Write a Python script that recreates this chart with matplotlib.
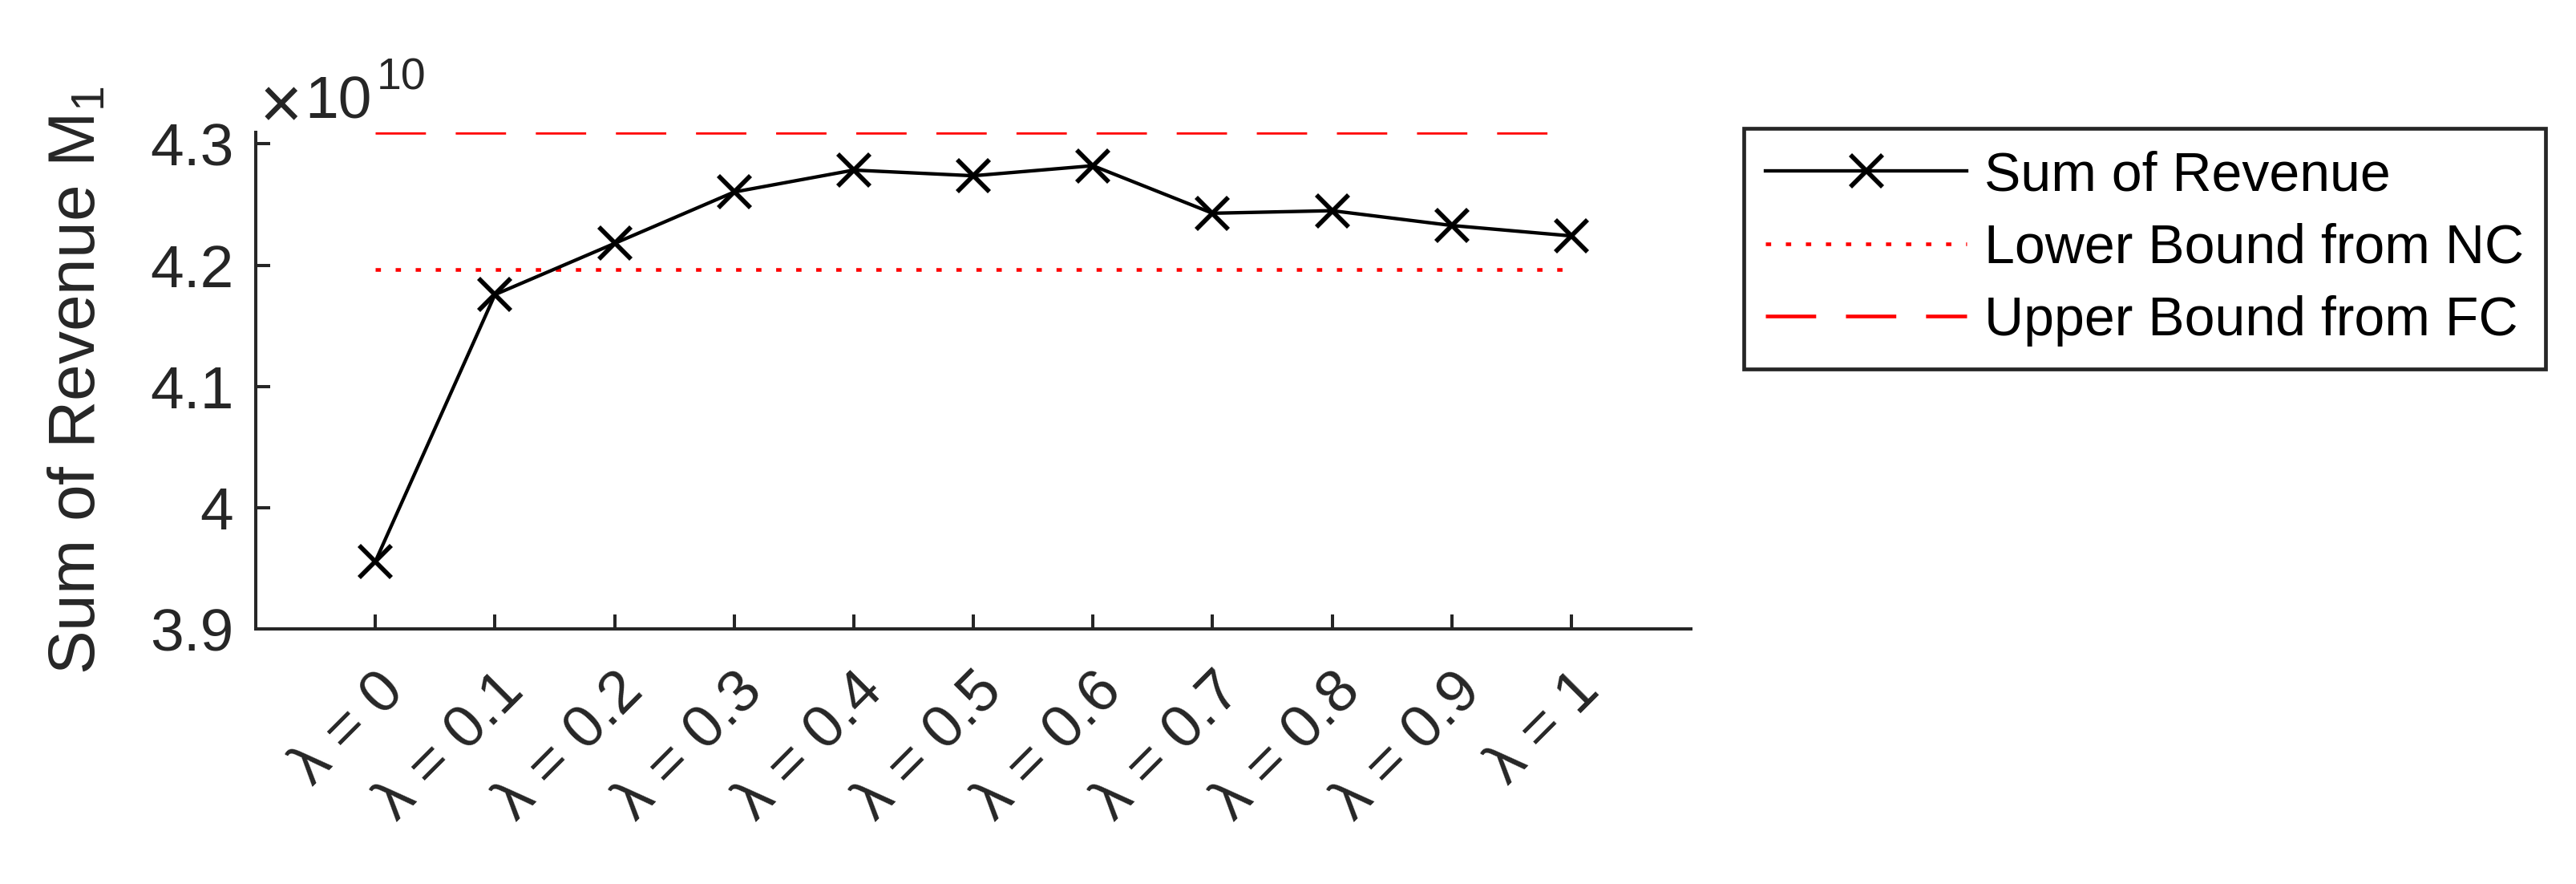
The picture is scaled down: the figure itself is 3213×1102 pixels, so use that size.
import matplotlib
matplotlib.use('Agg')
import matplotlib.pyplot as plt
from matplotlib.ticker import FixedLocator, FixedFormatter

# ---- data ----
lambda_values = ['0', '0.1', '0.2', '0.3', '0.4', '0.5', '0.6', '0.7', '0.8', '0.9', '1']
x_tick_labels = ['\u03bb = ' + v for v in lambda_values]
revenue = [3.9556e10, 4.1757e10, 4.2179e10, 4.2603e10, 4.2784e10, 4.2737e10,
           4.2820e10, 4.2428e10, 4.2449e10, 4.2327e10, 4.2241e10]
lower_bound = 4.1965e10
upper_bound = 4.3095e10
y_ticks = [3.9e10, 4.0e10, 4.1e10, 4.2e10, 4.3e10]
y_tick_labels = ['3.9', '4', '4.1', '4.2', '4.3']
series_labels = ['Sum of Revenue', 'Lower Bound from NC', 'Upper Bound from FC']
y_label = 'Sum of Revenue M$_1$'

# ---- style ----
plt.rcParams['font.family'] = ['Liberation Sans', 'DejaVu Sans']
plt.rcParams['mathtext.fontset'] = 'custom'
plt.rcParams['mathtext.rm'] = 'Liberation Sans'
plt.rcParams['mathtext.it'] = 'Liberation Sans:italic'
plt.rcParams['mathtext.bf'] = 'Liberation Sans:bold'

W, H, DPI = 3213, 1102, 100
GRAY = '#262626'
fig = plt.figure(figsize=(W / DPI, H / DPI), dpi=DPI)
fig.patch.set_facecolor('white')

ax_l, ax_r, ax_t, ax_b = 319, 2109, 165, 784
ax = fig.add_axes([ax_l / W, 1 - ax_b / H, (ax_r - ax_l) / W, (ax_b - ax_t) / H])

x = list(range(1, len(revenue) + 1))
ax.plot(x, revenue, color='black', lw=3.1, marker='x', ms=29, mew=4.1,
        label=series_labels[0], zorder=3)
ax.plot([x[0], x[-1]], [lower_bound, lower_bound], color='red', lw=3.3,
        dashes=(1.45, 4.0), dash_capstyle='butt', label=series_labels[1])
ax.plot([x[0], x[-1]], [upper_bound, upper_bound], color='red', lw=3.3,
        dashes=(13.7, 8.1), dash_capstyle='butt', label=series_labels[2])

ax.set_xlim(x[0] - 1, x[-1] + 1)
ax.set_ylim(y_ticks[0], upper_bound)

for s in ['top', 'right']:
    ax.spines[s].set_visible(False)
for s in ['left', 'bottom']:
    ax.spines[s].set_linewidth(2.9)
    ax.spines[s].set_color(GRAY)

ax.yaxis.set_major_locator(FixedLocator(y_ticks))
ax.yaxis.set_major_formatter(FixedFormatter(y_tick_labels))
ax.set_xticks(x)
ax.set_xticklabels(x_tick_labels, rotation=45, ha='right', va='top',
                   rotation_mode='anchor')

ax.tick_params(direction='in', length=13, width=2.9, colors=GRAY, labelsize=54)
ax.tick_params(axis='y', pad=20)
ax.tick_params(axis='x', pad=30)

ax.set_ylabel(y_label, fontsize=59, color=GRAY)
ax.yaxis.set_label_coords((135 - ax_l) / (ax_r - ax_l), 0.5)

# exponent label
fig.text(324 / W, 1 - 160 / H, '\u00d7', fontsize=66, color=GRAY, va='baseline', ha='left')
fig.text(380 / W, 1 - 148 / H, '10', fontsize=54, color=GRAY, va='baseline', ha='left')
fig.text(470 / W, 1 - 111 / H, '10', fontsize=40, color=GRAY, va='baseline', ha='left')

leg = ax.legend(loc='upper left', bbox_to_anchor=(2175 / W, 1 - 160 / H),
                bbox_transform=fig.transFigure, borderaxespad=0,
                fontsize=49, handlelength=3.69, handletextpad=0.32,
                borderpad=0.4, labelspacing=0.39, fancybox=False,
                framealpha=1, edgecolor=GRAY)
leg.get_frame().set_linewidth(3.4)

fig.savefig('out.png', dpi=DPI, facecolor='white')
